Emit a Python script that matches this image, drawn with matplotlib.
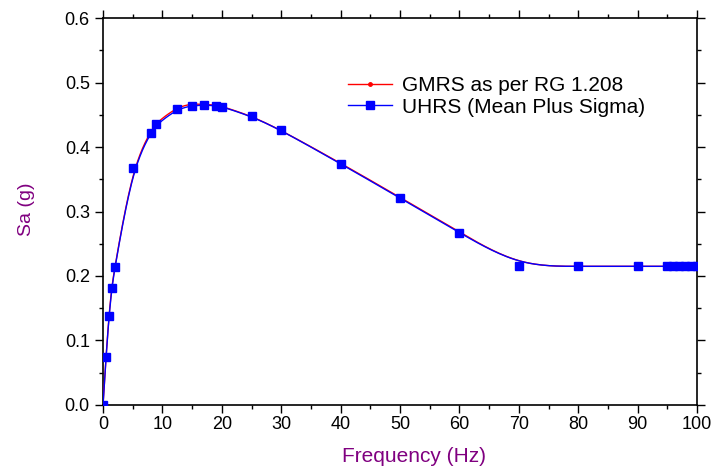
import numpy as np
import matplotlib
matplotlib.use("Agg")
import matplotlib.pyplot as plt
from matplotlib.lines import Line2D
from matplotlib.ticker import MultipleLocator, FormatStrFormatter

plt.rcParams['font.family'] = ['Liberation Sans', 'DejaVu Sans']

# ---- data ----
freq = [0, 0.5, 1, 1.5, 2, 5, 8, 9, 12.5, 15, 17, 19, 20, 25, 30, 40, 50, 60,
        70, 80, 90, 95, 96, 97, 98, 99, 100]
gmrs = [0.0, 0.075, 0.140, 0.185, 0.215, 0.369, 0.424, 0.438, 0.462, 0.467,
        0.466, 0.465, 0.463, 0.448, 0.426, 0.375, 0.322, 0.268,
        0.215, 0.215, 0.215, 0.215, 0.215, 0.215, 0.215, 0.215, 0.215]
uhrs = [0.0, 0.074, 0.138, 0.182, 0.214, 0.367, 0.421, 0.435, 0.459, 0.464,
        0.465, 0.464, 0.4625, 0.4475, 0.426, 0.374, 0.321, 0.267,
        0.215, 0.215, 0.215, 0.215, 0.215, 0.215, 0.215, 0.215, 0.215]
labels = ["GMRS as per RG 1.208", "UHRS (Mean Plus Sigma)"]
xticks = list(range(0, 101, 10))
yticks = [0.0, 0.1, 0.2, 0.3, 0.4, 0.5, 0.6]


def bspline(x, y, n=600, k=3):
    """Clamped uniform cubic B-spline using the data points as control points."""
    P = np.column_stack([x, y]).astype(float)
    m = len(P)
    knots = np.concatenate([np.zeros(k), np.linspace(0, 1, m - k + 1), np.ones(k)])
    t = np.linspace(0, 1, n)
    nk = len(knots) - 1
    B = np.zeros((n, nk))
    for i in range(nk):
        B[:, i] = (knots[i] <= t) & (t < knots[i + 1])
    B[t >= knots[-1], len(knots) - k - 2] = 1.0
    for d in range(1, k + 1):
        Bn = np.zeros((n, nk - d))
        for i in range(nk - d):
            den1 = knots[i + d] - knots[i]
            den2 = knots[i + d + 1] - knots[i + 1]
            left = (t - knots[i]) / den1 * B[:, i] if den1 > 0 else 0.0
            right = (knots[i + d + 1] - t) / den2 * B[:, i + 1] if den2 > 0 else 0.0
            Bn[:, i] = left + right
        B = Bn
    C = B @ P
    return C[:, 0], C[:, 1]


fig = plt.figure(figsize=(7.13, 4.70), dpi=100)
ax = fig.add_axes([0.1445, 0.1383, 0.8331, 0.8234])

red = '#ff0000'
blue = '#0000ff'
purple = '#800080'

sx, sy = bspline(freq, gmrs)
ax.plot(sx, sy, color=red, lw=1.0, zorder=3)
ax.plot(freq, gmrs, ls='none', marker='o', ms=2.5, color=red, zorder=4)

bx, by = bspline(freq, uhrs)
ax.plot(bx, by, color=blue, lw=1.0, zorder=5)
ax.plot(freq, uhrs, ls='none', marker='s', ms=5.5, color=blue, zorder=6)

ax.set_xlim(0, 100)
ax.set_ylim(0, 0.6)
ax.set_xticks(xticks)
ax.set_yticks(yticks)
ax.yaxis.set_major_formatter(FormatStrFormatter('%.1f'))
ax.xaxis.set_minor_locator(MultipleLocator(5))
ax.yaxis.set_minor_locator(MultipleLocator(0.05))

ax.tick_params(which='both', direction='out', top=True, right=True,
               labeltop=False, labelright=False, width=1.0, colors='black')
ax.tick_params(which='major', length=5.5)
ax.tick_params(which='minor', length=3)
ax.tick_params(axis='x', which='major', labelsize=13, pad=2.5)
ax.tick_params(axis='y', which='major', labelsize=13, pad=4)
for s in ax.spines.values():
    s.set_linewidth(1.2)

ax.set_xlabel('Frequency (Hz)', color=purple, fontsize=15, va='center')
ax.xaxis.set_label_coords(0.524, -0.132)
ax.set_ylabel('Sa (g)', color=purple, fontsize=14, va='center')
ax.yaxis.set_label_coords(-0.129, 0.505)

handles = [
    Line2D([], [], color=red, lw=1.0, marker='o', ms=2.5),
    Line2D([], [], color=blue, lw=1.0, marker='s', ms=5.5),
]
ax.legend(handles, labels, loc='upper left', bbox_to_anchor=(0.412, 0.85),
          frameon=False, fontsize=15, handlelength=2.1, handletextpad=0.5,
          labelspacing=0.12, borderpad=0, borderaxespad=0)

fig.savefig('out.png', dpi=100)
